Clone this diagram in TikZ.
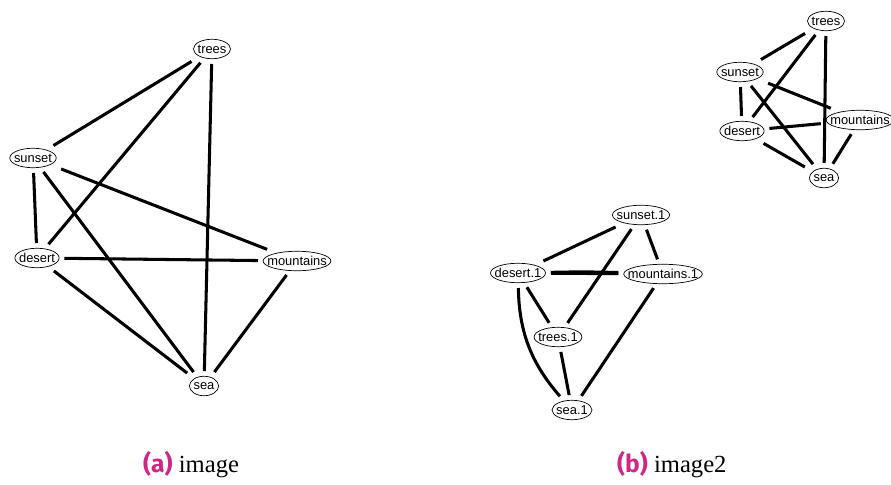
\documentclass[tikz,border=0pt]{standalone}
\usepackage{fontspec}
\setmainfont{Liberation Serif}
\setsansfont{Liberation Sans}
\newfontfamily\capfont{Fira Sans}
\usetikzlibrary{calc}
\definecolor{capmag}{RGB}{204,41,133}

\begin{document}
\begin{tikzpicture}[x=0.03cm,y=-0.03cm,
  every node/.style={font=\sffamily\fontsize{11}{13}\selectfont},
  vtx/.style={inner xsep=3.4pt,inner ysep=0pt,minimum height=0.57cm},
  ed/.style={line width=2.6pt,shorten <=4.5pt,shorten >=4.5pt},
  capt/.style={font=\fontsize{21}{25}\selectfont,anchor=base west,inner sep=0pt}]
\useasboundingbox (0,0) rectangle (891,485);
% (a) image
\node[vtx] (trees) at (212,49) {trees};
\node[vtx] (sunset) at (33,158) {sunset};
\node[vtx] (mountains) at (297,261) {mountains};
\node[vtx] (desert) at (37,258) {desert};
\node[vtx] (sea) at (204,386) {sea};
% (b) image2, top right
\node[vtx] (treesB) at (826,21) {trees};
\node[vtx] (sunsetB) at (740,72) {sunset};
\node[vtx] (mountainsB) at (860,120) {mountains};
\node[vtx] (desertB) at (742,131) {desert};
\node[vtx] (seaB) at (824,178) {sea};
% (b) image2, copies
\node[vtx] (sunsetC) at (641,215) {sunset.1};
\node[vtx] (desertC) at (518,273) {desert.1};
\node[vtx] (mountainsC) at (663,274) {mountains.1};
\node[vtx] (treesC) at (558,337) {trees.1};
\node[vtx] (seaC) at (572,410) {sea.1};
\foreach \v in {trees,sunset,mountains,desert,sea,treesB,sunsetB,mountainsB,desertB,seaB,sunsetC,desertC,mountainsC,treesC,seaC}
  \draw[line width=0.6pt] let \p1=($(\v.north east)-(\v.center)$) in (\v.center) ellipse [x radius=\x1,y radius=\y1];
% edges
\foreach \s/\t in {trees/sunset,trees/desert,trees/sea,sunset/desert,sunset/mountains,sunset/sea,desert/mountains,desert/sea,mountains/sea}
  {\draw[ed] (\s) -- (\t);
   \draw[ed] (\s B) -- (\t B);}
\foreach \s/\t in {sunsetC/desertC,sunsetC/treesC,sunsetC/mountainsC,desertC/mountainsC,desertC/treesC,treesC/seaC,mountainsC/seaC}
  \draw[ed] (\s) -- (\t);
\draw[ed] (desertC) to[bend left=1.5] (mountainsC);
\draw[ed] (desertC) to[bend right=20] (seaC);
% captions
\node[capt] (capA) at (143,472) {{\capfont\bfseries\color{capmag}(a)}\ image};
\node[capt] (capB) at (617,472) {{\capfont\bfseries\color{capmag}(b)}\ image2};
\end{tikzpicture}
\end{document}
